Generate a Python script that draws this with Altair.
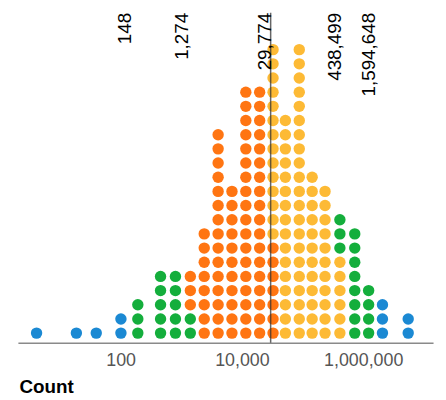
import altair as alt
import pandas as pd

# Column positions (data units, log axis) and dot counts per colour group
col_values = [4.1, 18.6, 39.6, 101, 192, 455, 801, 1410, 2390, 4050, 6850,
              11600, 19600, 32600, 52100, 88300, 144000, 235000, 413000,
              726000, 1230000, 2080000, 5530000]
blue_counts   = [1, 1, 1, 2, 0, 0, 0, 0, 0, 0, 0, 0, 0, 0, 0, 0, 0, 0, 0, 0, 0, 3, 2]
green_counts  = [0, 0, 0, 0, 3, 5, 5, 2, 0, 0, 0, 0, 0, 0, 0, 0, 0, 0, 3, 8, 4, 0, 0]
orange_counts = [0, 0, 0, 0, 0, 0, 0, 3, 8, 15, 11, 18, 18, 7, 0, 0, 0, 0, 0, 0, 0, 0, 0]
yellow_counts = [0, 0, 0, 0, 0, 0, 0, 0, 0, 0, 0, 0, 0, 14, 16, 21, 12, 11, 6, 0, 0, 0, 0]

quantile_values = [148, 1274, 29774, 438499, 1594648]
median_value = 29774
tick_values = [100, 10000, 1000000]

groups = ["blue", "green", "orange", "yellow"]
group_colors = ["#1b89d3", "#14ae3c", "#ff7512", "#fdba35"]

rows = []
for i, v in enumerate(col_values):
    counts = {"blue": blue_counts[i], "green": green_counts[i],
              "orange": orange_counts[i], "yellow": yellow_counts[i]}
    order = ["blue", "green", "orange", "yellow"] if v < median_value else ["orange", "yellow", "green", "blue"]
    k = 0
    for g in order:
        for _ in range(counts[g]):
            rows.append({"value": v, "row": k, "grp": g})
            k += 1
dots = pd.DataFrame(rows)

labels = pd.DataFrame({"value": quantile_values,
                       "label": [f"{q:,}" for q in quantile_values]})
median_df = pd.DataFrame({"value": [median_value]})

xscale = alt.Scale(type="log", domain=[2.02, 14200000], nice=False)

points = alt.Chart(dots).mark_circle(size=132, opacity=1).encode(
    x=alt.X("value:Q", scale=xscale,
            axis=alt.Axis(values=tick_values, format=",", title="Count",
                          ticks=False, grid=False, labelFontSize=18,
                          labelColor="#555555", labelPadding=9,
                          domainColor="#8a8a8a", domainWidth=1.5,
                          titleFontSize=19, titleFontWeight="bold",
                          titleColor="#000000", titleAnchor="start",
                          titleAlign="left", titleBaseline="top",
                          titleX=1, titleY=35, labelFont="Liberation Sans",
                          titleFont="Liberation Sans")),
    y=alt.Y("row:Q", scale=alt.Scale(domain=[-0.678, 22.6], nice=False, zero=False),
            axis=None),
    color=alt.Color("grp:N", scale=alt.Scale(domain=groups, range=group_colors),
                    legend=None),
)

rule = alt.Chart(median_df).mark_rule(color="#333333", strokeWidth=1.5, opacity=0.75).encode(
    x=alt.X("value:Q", scale=xscale),
    y=alt.value(0),
    y2=alt.value(333),
)

text = alt.Chart(labels).mark_text(angle=270, align="right", baseline="alphabetic",
                                   fontSize=19, color="#000000",
                                   font="Liberation Sans").encode(
    x=alt.X("value:Q", scale=xscale),
    y=alt.value(0),
    text="label:N",
)

chart = alt.layer(points, rule, text).properties(
    width=419, height=333,
    padding={"left": 10, "top": 2, "right": 5, "bottom": 5},
).configure_view(stroke=None)

chart.save("out.html", embed_options={"renderer": "svg", "actions": False})
